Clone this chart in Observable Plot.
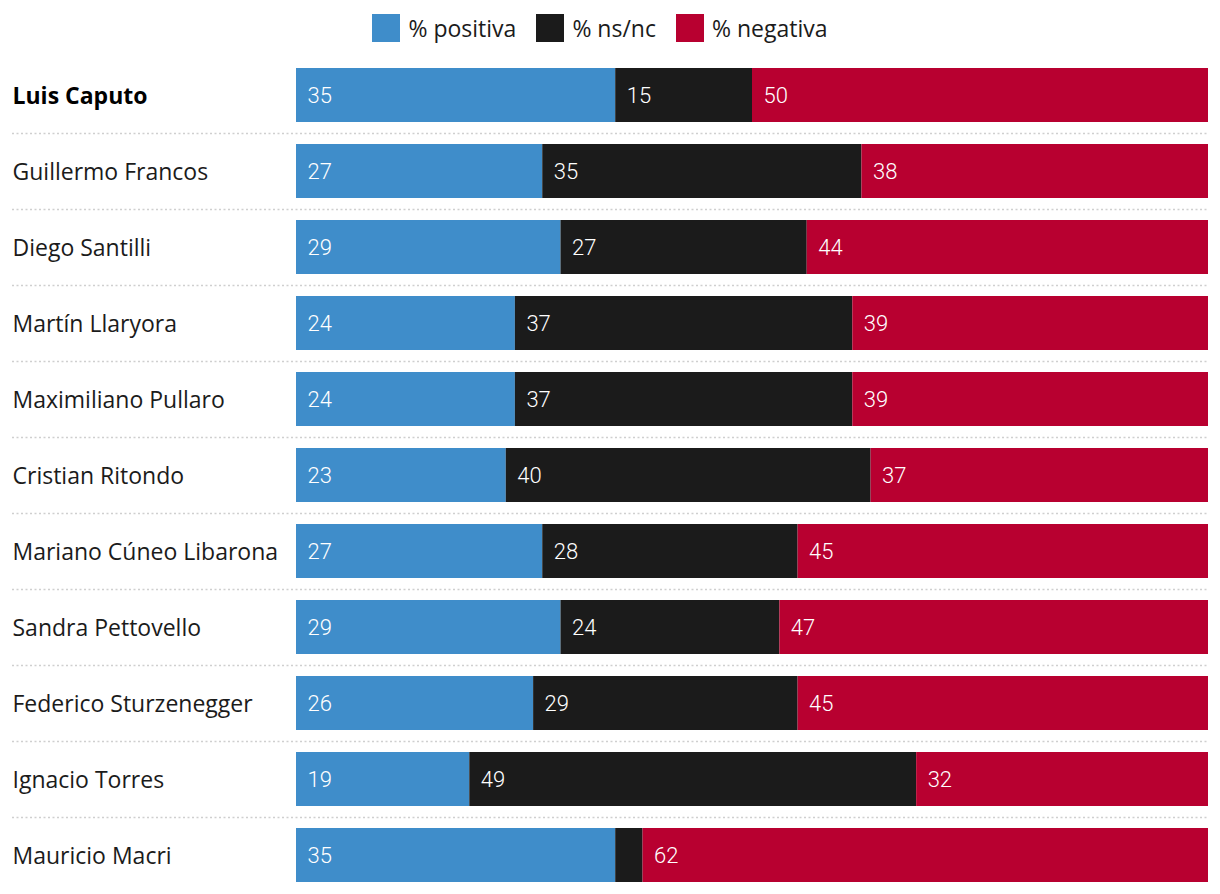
<!DOCTYPE html>
<html>
<head>
<meta charset="utf-8">
<script src="https://cdn.jsdelivr.net/npm/d3@7"></script>
<script src="https://cdn.jsdelivr.net/npm/@observablehq/plot@0.6"></script>
<style>
  body { margin: 0; background: #fff; font-family: "Open Sans", Roboto, sans-serif; }
  #legend { height: 55px; display: flex; justify-content: center; align-items: center; gap: 20px; font-size: 23px; color: #1b1b1b; padding-right: 20px; box-sizing: border-box; }
  #legend .item { display: flex; align-items: center; gap: 8px; }
  #legend .sw { width: 28px; height: 28px; display: inline-block; }
</style>
</head>
<body>
<div id="legend"></div>
<div id="chart"></div>
<script>
const names = ["Luis Caputo","Guillermo Francos","Diego Santilli","Martín Llaryora","Maximiliano Pullaro","Cristian Ritondo","Mariano Cúneo Libarona","Sandra Pettovello","Federico Sturzenegger","Ignacio Torres","Mauricio Macri"];
const positiva = [35,27,29,24,24,23,27,29,26,19,35];
const nsnc     = [15,35,27,37,37,40,28,24,29,49,3];
const negativa = [50,38,44,39,39,37,45,47,45,32,62];
const seriesNames = ["% positiva","% ns/nc","% negativa"];
const seriesColors = ["#3f8dca","#1b1b1b","#b80030"];
const highlighted = ["Luis Caputo"];

const series = [positiva, nsnc, negativa];
const rows = [];
names.forEach((n, i) => {
  let start = 0;
  series.forEach((s, k) => {
    rows.push({name: n, key: seriesNames[k], value: s[i], x1: start, x2: start + s[i]});
    start += s[i];
  });
});

const legend = document.getElementById("legend");
seriesNames.forEach((s, k) => {
  const it = document.createElement("div");
  it.className = "item";
  it.innerHTML = `<span class="sw" style="background:${seriesColors[k]}"></span><span>${s}</span>`;
  legend.appendChild(it);
});

const chart = Plot.plot({
  width: 1220,
  height: 839,
  marginLeft: 296,
  marginRight: 12,
  marginTop: 2,
  marginBottom: 1,
  style: {fontFamily: "'Open Sans', Roboto, sans-serif", background: "#fff"},
  x: {domain: [0, 100], axis: null},
  y: {domain: names, axis: null, paddingInner: 0.2895, paddingOuter: 0.1447},
  color: {domain: seriesNames, range: seriesColors},
  marks: [
    Plot.ruleY(names.slice(0, -1), {y: d => d, dy: 38, insetLeft: -284, stroke: "#cfcfcf", strokeWidth: 1.5, strokeDasharray: "2,2.5"}),
    Plot.barX(rows, {y: "name", x1: "x1", x2: "x2", fill: "key"}),
    Plot.text(rows.filter(d => d.value >= 5), {y: "name", x: "x1", text: d => String(d.value), textAnchor: "start", dx: 11, fill: "#fff", fontSize: 22, fontWeight: 300, fontFamily: "Roboto, sans-serif"}),
    Plot.text(names.filter(n => !highlighted.includes(n)), {y: d => d, frameAnchor: "left", dx: -284, dy: 1, textAnchor: "start", text: d => d, fill: "#1b1b1b", fontSize: 23}),
    Plot.text(names.filter(n => highlighted.includes(n)), {y: d => d, frameAnchor: "left", dx: -284, dy: 1, textAnchor: "start", text: d => d, fill: "#000", fontSize: 23, fontWeight: 700})
  ]
});
document.getElementById("chart").appendChild(chart);
</script>
</body>
</html>
